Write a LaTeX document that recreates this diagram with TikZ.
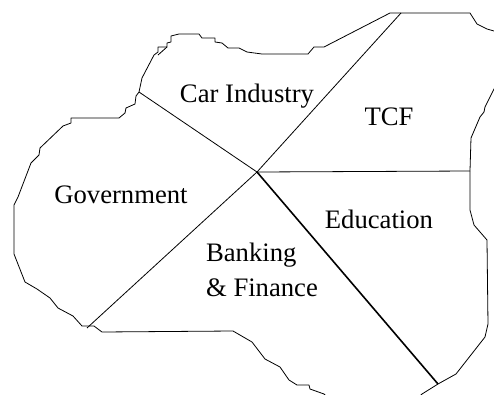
\documentclass[tikz,border=0pt]{standalone}
\usepackage{fontspec}
\setmainfont{Liberation Serif}
\tikzset{region/.style = {font=\fontsize{20pt}{26pt}\selectfont,inner sep=0pt,align=left}}
\tikzset{spoke/.style = {line width=0.6pt}}
\tikzset{border/.style = {line width=0.6pt,line join=round}}

\begin{document}
\begin{tikzpicture}[x=0.75pt,y=-0.75pt]
                    \useasboundingbox (0,0) rectangle (494,394);
                    \clip (0,0) rectangle (494,394);

                    \coordinate (hub) at (257,172);
                    \coordinate (car) at (139,92);
                    \coordinate (tcf) at (401,13);
                    \coordinate (edu) at (470,171);
                    \coordinate (bank) at (438,384);
                    \coordinate (gov) at (87,328);

                    % outline, clockwise from the left edge
                    \draw[border] (14,205) -- (18,197) -- (31,163) -- (39,155) -- (40,148) -- (63,126) -- (71,123) -- (71,118)
                        -- (119,118) -- (125,113) -- (126,108) -- (135,104) -- (136,96) -- (car) -- (142,78) -- (154,55)
                        -- (158,52) -- (158,47) -- (167,47) -- (167,43) -- (171,42) -- (171,36) -- (179,34) -- (199,34)
                        -- (202,38) -- (215,38) -- (215,42) -- (222,43) -- (228,48) -- (239,48) -- (247,52) -- (262,54)
                        -- (308,54) -- (314,47) -- (324,47) -- (390,13) -- (470,13) -- (477,24) -- (487,29) -- (494,31)
                        -- (510,34) -- (510,70) -- (494,89) -- (485,107) -- (484,112) -- (480,117) -- (471,138) -- (edu)
                        -- (470,210) -- (474,225) -- (487,240) -- (488,324) -- (485,337) -- (456,374) -- (bank) -- (422,394)
                        -- (410,405) -- (335,405) -- (324,394) -- (310,389) -- (309,385) -- (297,385) -- (289,380) -- (280,367)
                        -- (265,359) -- (252,342) -- (233,331) -- (102,332) -- (94,326) -- (82,326) -- (73,316) -- (58,308)
                        -- (50,298) -- (37,289) -- (25,282) -- (14,254) -- cycle;
                    \draw[border] (158,55) -- (167,47);

                    \draw[spoke] (hub) -- (car);
                    \draw[spoke] (hub) -- (tcf);
                    \draw[spoke] (hub) -- (edu);
                    \draw[spoke] (hub) -- (gov);
                    \draw[line width=1.2pt] (hub) -- (bank);

                    \node[region] (carlabel) at (247,96) {Car Industry};
                    \node[region] (tcflabel) at (389,117) {TCF};
                    \node[region] (govlabel) at (121,195) {Government};
                    \node[region] (edulabel) at (379,219) {Education};
                    \node[region] (banklabel) at (262,270) {Banking\\\& Finance};
                \end{tikzpicture}
\end{document}
